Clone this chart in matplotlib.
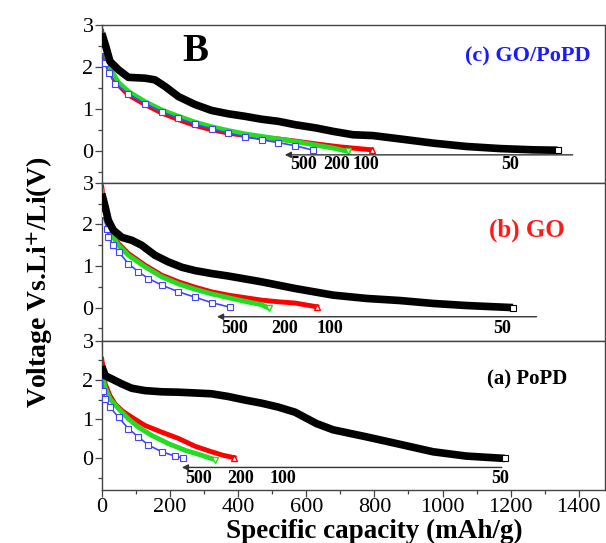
import matplotlib
matplotlib.use("Agg")
import matplotlib.pyplot as plt

plt.rcParams['font.family'] = ['Liberation Serif', 'DejaVu Serif']
plt.rcParams['mathtext.fontset'] = 'stix'

# ---- data (capacity mAh/g, voltage V) ----
# (c) GO/PoPD
c50_x = [0, 12, 24, 49, 78, 127, 156, 186, 225, 274, 322, 371, 420, 469, 518, 567, 630, 679, 737, 796, 875, 972, 1070, 1168, 1265, 1338]
c50_v = [2.80, 2.48, 2.13, 1.93, 1.75, 1.73, 1.69, 1.53, 1.29, 1.10, 0.96, 0.88, 0.82, 0.75, 0.70, 0.62, 0.54, 0.46, 0.38, 0.36, 0.28, 0.18, 0.10, 0.05, 0.02, 0.01]
c100_x = [0, 5, 15, 39, 78, 127, 176, 225, 274, 322, 371, 420, 469, 518, 567, 630, 700, 792]
c100_v = [2.85, 2.48, 2.09, 1.65, 1.33, 1.10, 0.90, 0.74, 0.60, 0.50, 0.42, 0.36, 0.32, 0.28, 0.23, 0.16, 0.09, 0.02]
c200_x = [0, 10, 25, 50, 80, 127, 176, 225, 274, 322, 371, 420, 469, 518, 567, 630, 680, 723]
c200_v = [2.75, 2.30, 1.95, 1.62, 1.40, 1.17, 0.97, 0.82, 0.68, 0.57, 0.48, 0.40, 0.34, 0.28, 0.22, 0.13, 0.06, -0.02]
c500_x = [2, 8, 20, 40, 78, 127, 176, 225, 274, 322, 371, 420, 469, 518, 567, 620]
c500_v = [2.40, 2.10, 1.85, 1.60, 1.35, 1.12, 0.93, 0.77, 0.63, 0.52, 0.42, 0.33, 0.26, 0.19, 0.12, 0.01]

# (b) GO
b50_x = [0, 10, 19, 34, 59, 88, 117, 156, 195, 235, 274, 322, 371, 420, 469, 518, 567, 679, 777, 875, 972, 1070, 1207]
b50_v = [2.74, 2.42, 2.10, 1.86, 1.69, 1.62, 1.50, 1.26, 1.10, 0.97, 0.89, 0.82, 0.76, 0.69, 0.62, 0.54, 0.46, 0.30, 0.22, 0.17, 0.10, 0.05, 0.00]
b100_x = [0, 10, 24, 49, 78, 127, 176, 225, 274, 322, 371, 420, 469, 518, 567, 631]
b100_v = [2.90, 2.26, 1.86, 1.54, 1.30, 1.02, 0.78, 0.62, 0.49, 0.38, 0.30, 0.24, 0.18, 0.14, 0.11, 0.02]
b200_x = [0, 10, 24, 49, 78, 127, 176, 225, 274, 322, 371, 420, 469, 490]
b200_v = [2.80, 2.20, 1.82, 1.50, 1.26, 0.98, 0.74, 0.57, 0.44, 0.33, 0.24, 0.15, 0.07, -0.01]
b500_x = [2, 15, 19, 34, 49, 78, 107, 137, 176, 225, 274, 322, 376]
b500_v = [2.26, 1.90, 1.70, 1.50, 1.34, 1.06, 0.86, 0.70, 0.54, 0.38, 0.25, 0.12, 0.01]

# (a) PoPD
a50_x = [0, 10, 29, 59, 88, 127, 176, 225, 274, 322, 371, 420, 469, 518, 567, 630, 679, 777, 875, 972, 1070, 1183]
a50_v = [2.35, 2.11, 2.03, 1.90, 1.79, 1.73, 1.70, 1.69, 1.67, 1.65, 1.58, 1.49, 1.41, 1.31, 1.18, 0.89, 0.73, 0.55, 0.36, 0.17, 0.06, 0.00]
a100_x = [0, 5, 10, 24, 39, 59, 88, 127, 176, 225, 274, 322, 356, 388]
a100_v = [2.53, 2.24, 1.90, 1.60, 1.39, 1.22, 1.05, 0.84, 0.67, 0.51, 0.31, 0.17, 0.08, 0.02]
a200_x = [0, 10, 24, 49, 78, 107, 146, 195, 244, 293, 332]
a200_v = [2.20, 1.81, 1.52, 1.27, 1.01, 0.80, 0.59, 0.38, 0.21, 0.08, -0.03]
a500_x = [0, 3, 10, 24, 49, 78, 107, 137, 176, 215, 239]
a500_v = [2.20, 1.73, 1.52, 1.31, 1.05, 0.76, 0.55, 0.34, 0.17, 0.06, 0.01]

rates = ['500', '200', '100', '50']
panel_titles = ['(c) GO/PoPD', '(b) GO', '(a) PoPD']
title_colors = ['#1a1aff', '#ff1a1a', 'black']
title_sizes = [16, 18, 15]
title_ypos = [0.80, 0.70, 0.74]
# rate-label positions (capacity) and arrow extents per panel
rate_pos = [[592, 688, 775, 1198], [391, 538, 670, 1174], [283, 406, 532, 1168]]
arrow_x = [[537, 1382], [338, 1276], [235, 1174]]
arrow_y = [-0.10, -0.22, -0.23]
label_y = [-0.34, -0.51, -0.51]

panels = [
    [(c50_x, c50_v), (c100_x, c100_v), (c200_x, c200_v), (c500_x, c500_v)],
    [(b50_x, b50_v), (b100_x, b100_v), (b200_x, b200_v), (b500_x, b500_v)],
    [(a50_x, a50_v), (a100_x, a100_v), (a200_x, a200_v), (a500_x, a500_v)],
]

fig = plt.figure(figsize=(6.06, 5.43), dpi=100)
gs = fig.add_gridspec(3, 1, height_ratios=[158, 158, 149], hspace=0,
                      left=0.168, right=0.999, top=0.954, bottom=0.098)
axes = [fig.add_subplot(gs[i]) for i in range(3)]

for i, ax in enumerate(axes):
    s50, s100, s200, s500 = panels[i]
    ax.plot(s100[0], s100[1], color='red', lw=3.5, zorder=2)
    ax.plot(s100[0][-1], s100[1][-1], marker='^', color='red', mfc='white', ms=5, zorder=3)
    ax.plot(s200[0], s200[1], color='#22dd22', lw=3.5, zorder=2)
    ax.plot(s200[0][-1], s200[1][-1], marker='v', color='#22dd22', mfc='white', ms=5, zorder=3)
    ax.plot(s500[0], s500[1], color='#4444ff', lw=1.2, marker='s', ms=4.5,
            mfc='white', mew=0.8, zorder=3)
    ax.plot(s50[0], s50[1], color='black', lw=5.5, solid_capstyle='butt', zorder=4)
    ax.plot(s50[0][-1], s50[1][-1], marker='s', color='black', mfc='white', ms=4.5, mew=0.8, zorder=5)

    ax.annotate('', xy=(arrow_x[i][0], arrow_y[i]), xytext=(arrow_x[i][1], arrow_y[i]),
                arrowprops=dict(arrowstyle='-|>', color='#333333', lw=1.0,
                                mutation_scale=9, shrinkA=0, shrinkB=0))
    for lab, xp in zip(rates, rate_pos[i]):
        ax.text(xp, label_y[i], lab, ha='center', va='center',
                fontsize=13, fontweight='bold')

    ax.text(0.845, title_ypos[i], panel_titles[i],
            transform=ax.transAxes, ha='center', va='center',
            fontsize=title_sizes[i], fontweight='bold', color=title_colors[i])

    ax.set_xlim(0, 1478)
    ax.set_ylim(-0.8 if i else -0.77, 3)
    ax.set_yticks([0, 1, 2, 3])
    ax.set_yticks([-0.5, 0.5, 1.5, 2.5], minor=True)
    ax.set_xticks(range(0, 1401, 200))
    ax.set_xticks(range(100, 1500, 200), minor=True)
    ax.tick_params(axis='both', which='major', direction='out', length=5,
                   width=0.9, labelsize=16, color='#444444')
    ax.tick_params(axis='both', which='minor', direction='out', length=3,
                   width=0.9, color='#444444')
    ax.tick_params(axis='y', pad=1)
    ax.tick_params(axis='x', pad=1)
    for sp in ax.spines.values():
        sp.set_color('#444444')
        sp.set_linewidth(1.0)
    if i < 2:
        ax.tick_params(axis='x', labelbottom=False)

axes[0].text(0.185, 0.83, 'B', transform=axes[0].transAxes, ha='center', va='center',
             fontsize=28, fontweight='bold')

fig.text(0.617, 0.009, 'Specific capacity (mAh/g)', ha='center', va='baseline',
         fontsize=19.5, fontweight='bold')
fig.text(0.066, 0.48, r'Voltage Vs.Li$^{\mathbf{+}}$/Li(V)', rotation=90,
         ha='center', va='center', fontsize=20, fontweight='bold')

fig.savefig('out.png', dpi=100)
